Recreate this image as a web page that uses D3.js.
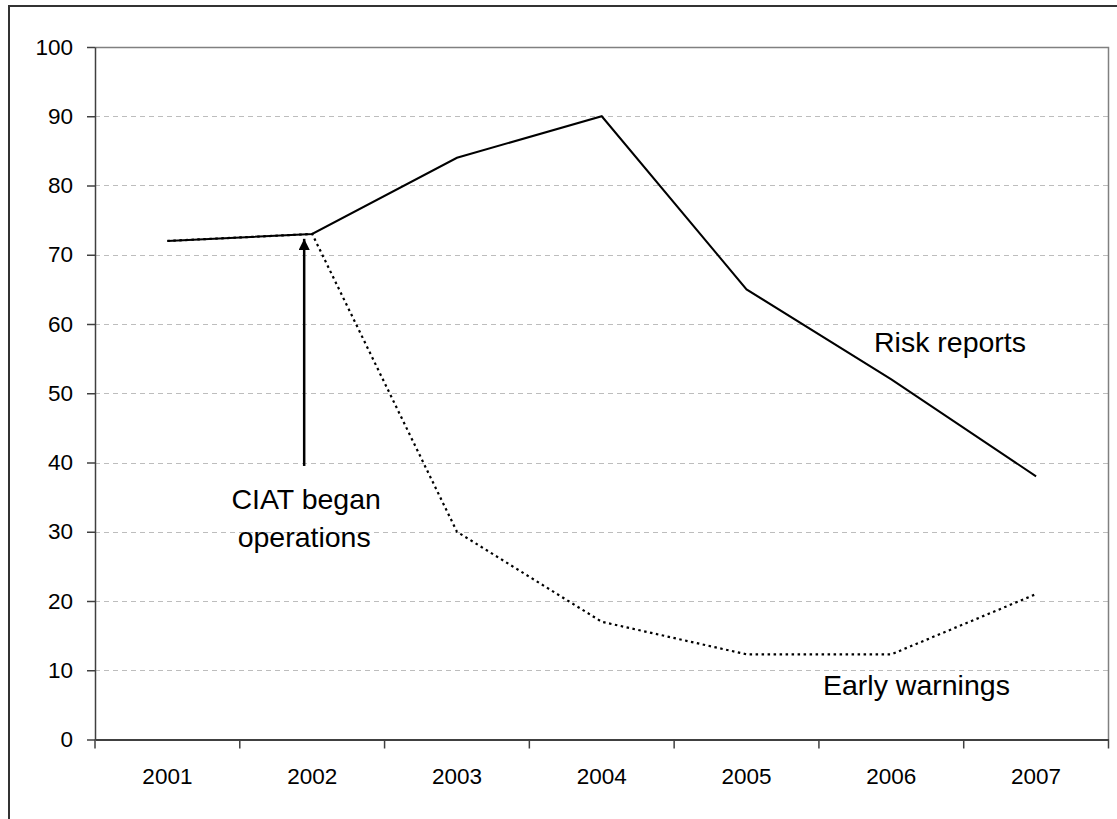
<!DOCTYPE html>
<html>
<head>
<meta charset="utf-8">
<script src="https://cdn.jsdelivr.net/npm/d3@7"></script>
<style>
  html, body { margin: 0; padding: 0; background: #fff; }
  svg { display: block; font-family: "Liberation Sans", Arial, sans-serif; }
</style>
</head>
<body>
<script>
const years = ["2001", "2002", "2003", "2004", "2005", "2006", "2007"];
const riskReports = [72, 73, 84, 90, 65, 52, 38];
const earlyWarnings = [72, 73, 30, 17, 12.3, 12.3, 21];
const yTicks = [0, 10, 20, 30, 40, 50, 60, 70, 80, 90, 100];

(function () {
const W = 1117, H = 819;
const svg = d3.select("body").append("svg").attr("width", W).attr("height", H);

// outer frame (clipped by window on right/bottom)
svg.append("rect").attr("x", 9).attr("y", 6).attr("width", 1120).attr("height", 830)
  .attr("fill", "none").attr("stroke", "#333").attr("stroke-width", 2);

const pL = 95, pR = 1108.5, pT = 47, pB = 739.5;
const x = d3.scaleBand().domain(years).range([pL, pR]).padding(0);
const y = d3.scaleLinear().domain([0, 100]).range([pB, pT]);

// gridlines
svg.append("g").selectAll("line").data(yTicks.filter(d => d > 0 && d < 100)).join("line")
  .attr("x1", pL).attr("x2", pR)
  .attr("y1", d => Math.round(y(d)) + 0.5).attr("y2", d => Math.round(y(d)) + 0.5)
  .attr("stroke", "#bdbdbd").attr("stroke-width", 1).attr("stroke-dasharray", "5,4");

// plot border top/right
svg.append("path")
  .attr("d", `M${pL},${pT + 0.5}H${pR}V${pB}`)
  .attr("fill", "none").attr("stroke", "#808080").attr("stroke-width", 1.5);

// y axis
const yAxis = svg.append("g").attr("transform", `translate(${pL},0)`)
  .call(d3.axisLeft(y).tickValues(yTicks).tickSize(8).tickPadding(14).tickSizeOuter(0));
yAxis.select(".domain").attr("stroke", "#404040").attr("stroke-width", 1.5);
yAxis.selectAll(".tick line").attr("stroke", "#404040").attr("stroke-width", 1.5);
yAxis.selectAll("text").attr("font-size", 22.5).attr("fill", "#000")
  .attr("font-family", "Liberation Sans, Arial, sans-serif");

// x axis
const xAxis = svg.append("g").attr("transform", `translate(0,${pB})`)
  .call(d3.axisBottom(x).tickSize(0).tickPadding(29).tickSizeOuter(0));
xAxis.select(".domain").attr("stroke", "#404040").attr("stroke-width", 2);
xAxis.selectAll("text").attr("font-size", 22.5).attr("fill", "#000")
  .attr("font-family", "Liberation Sans, Arial, sans-serif");
// category boundary ticks
const bounds = years.map(d => x(d)).concat([pR]);
svg.append("g").selectAll("line").data(bounds).join("line")
  .attr("x1", d => d).attr("x2", d => d).attr("y1", pB).attr("y2", pB + 9)
  .attr("stroke", "#404040").attr("stroke-width", 1.5);

const cx = d => x(d) + x.bandwidth() / 2;
const line = d3.line().x((d, i) => cx(years[i])).y(d => y(d));

svg.append("path").datum(earlyWarnings).attr("d", line)
  .attr("fill", "none").attr("stroke", "#000").attr("stroke-width", 2.2)
  .attr("stroke-dasharray", "2.5,3.5");
svg.append("path").datum(riskReports).attr("d", line)
  .attr("fill", "none").attr("stroke", "#000").attr("stroke-width", 2);

// arrow annotation
const ax = cx("2002") - 8;
svg.append("defs").append("marker").attr("id", "ah")
  .attr("viewBox", "0 0 10 10").attr("refX", 10).attr("refY", 5)
  .attr("markerWidth", 4.5).attr("markerHeight", 4.5).attr("markerUnits", "strokeWidth")
  .attr("orient", "auto")
  .append("path").attr("d", "M0,0L10,5L0,10Z").attr("fill", "#000");
svg.append("line").attr("x1", ax).attr("x2", ax).attr("y1", y(39.5)).attr("y2", y(72.3))
  .attr("stroke", "#000").attr("stroke-width", 2.5).attr("marker-end", "url(#ah)");

const ann = svg.append("g").attr("font-size", 28.5).attr("fill", "#000");
ann.append("text").attr("x", ax + 2).attr("y", 509).attr("text-anchor", "middle").text("CIAT began");
ann.append("text").attr("x", ax).attr("y", 547).attr("text-anchor", "middle").text("operations");
ann.append("text").attr("x", 874).attr("y", 352).text("Risk reports");
ann.append("text").attr("x", 823).attr("y", 695).text("Early warnings");
})();
</script>
</body>
</html>
